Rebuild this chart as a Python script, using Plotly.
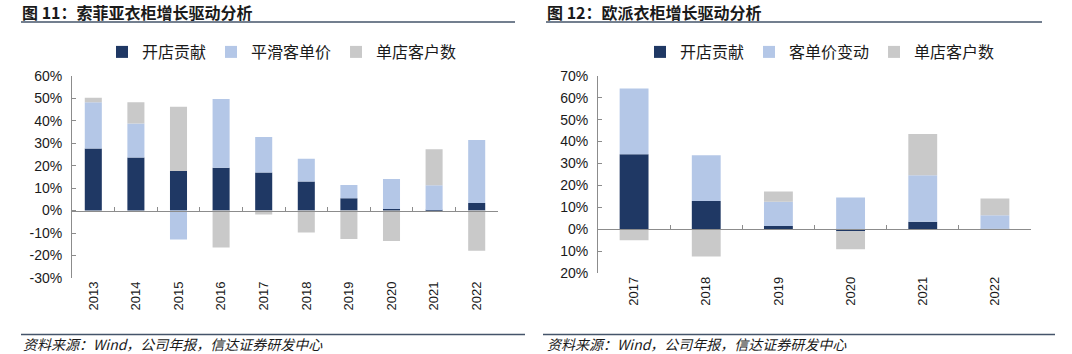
import plotly.graph_objects as go

years_L = ["2013", "2014", "2015", "2016", "2017", "2018", "2019", "2020", "2021", "2022"]
open_L = [27.6, 23.6, 17.6, 19.1, 16.9, 12.9, 5.5, 0.7, 0.3, 3.4]
price_L = [20.6, 15.1, -12.9, 30.5, 15.8, 10.1, 5.9, 13.3, 11.0, 28.0]
cust_L = [2.0, 9.5, 28.6, -16.4, -1.8, -9.8, -12.6, -13.5, 16.0, -17.9]

years_R = ["2017", "2018", "2019", "2020", "2021", "2022"]
open_R = [34.2, 12.9, 1.5, -0.8, 3.5, 0.3]
price_R = [30.0, 20.9, 11.1, 14.5, 21.2, 6.1]
cust_R = [-5.0, -12.4, 4.7, -8.3, 18.8, 7.7]

names_L = ["开店贡献", "平滑客单价", "单店客户数"]
names_R = ["开店贡献", "客单价变动", "单店客户数"]
colors = ["#1F3864", "#B4C7E7", "#C9C9C9"]

yt_L = [-30, -20, -10, 0, 10, 20, 30, 40, 50, 60]
yt_L_text = ["-30%", "-20%", "-10%", "0%", "10%", "20%", "30%", "40%", "50%", "60%"]
yt_R = [-20, -10, 0, 10, 20, 30, 40, 50, 60, 70]
yt_R_text = ["20%", "10%", "0%", "10%", "20%", "30%", "40%", "50%", "60%", "70%"]

title_L = "图 11：索菲亚衣柜增长驱动分析"
title_R = "图 12：欧派衣柜增长驱动分析"
source = "资料来源：Wind，公司年报，信达证券研发中心"

W, H = 1072, 354
FONT = "Liberation Sans, Arial, Noto Sans CJK SC, sans-serif"
CJK = "Noto Sans CJK SC, sans-serif"

fig = go.Figure()

for vals, nm, c in zip([open_L, price_L, cust_L], names_L, colors):
    fig.add_trace(go.Bar(x=years_L, y=vals, name=nm, marker=dict(color=c, line=dict(width=0)),
                         xaxis="x", yaxis="y", legend="legend"))
for vals, nm, c in zip([open_R, price_R, cust_R], names_R, colors):
    fig.add_trace(go.Bar(x=years_R, y=vals, name=nm, marker=dict(color=c, line=dict(width=0)),
                         xaxis="x2", yaxis="y2", legend="legend2"))

# invisible helper traces so the zero-line axes know the categories
fig.add_trace(go.Scatter(x=years_L, y=[0] * len(years_L), mode="none", showlegend=False,
                         hoverinfo="skip", xaxis="x3", yaxis="y"))
fig.add_trace(go.Scatter(x=years_R, y=[0] * len(years_R), mode="none", showlegend=False,
                         hoverinfo="skip", xaxis="x4", yaxis="y2"))

dxL = [72 / W, 498 / W]
dyL = [1 - 278 / H, 1 - 75.7 / H]
dxR = [598 / W, 1031 / W]
dyR = [1 - 273.3 / H, 1 - 75.7 / H]
rL = [-30, 60]
rR = [-20, 70]


def zero_pos(dom, rng):
    return dom[0] + (0 - rng[0]) / (rng[1] - rng[0]) * (dom[1] - dom[0])


axis_col = "#8C8C8C"
tickfont = dict(family=FONT, size=14, color="#1a1a1a")
xtickfont = dict(family=FONT, size=13, color="#1a1a1a")

yax = dict(showgrid=False, zeroline=False, showline=True, linecolor=axis_col, linewidth=1,
           ticks="inside", ticklen=4, tickcolor=axis_col, tickfont=tickfont, ticklabelstandoff=6,
           automargin=False)
xax = dict(showgrid=False, zeroline=False, showline=False, ticks="", tickangle=-90,
           tickfont=xtickfont, type="category", automargin=False)
zax = dict(showgrid=False, zeroline=False, showline=True, linecolor=axis_col, linewidth=1,
           ticks="inside", ticklen=4, tickcolor=axis_col, tickson="boundaries",
           showticklabels=False, type="category", anchor="free", automargin=False)

legfont = dict(family=CJK, size=16, color="#1a1a1a")

fig.update_layout(
    template="none",
    width=W, height=H,
    margin=dict(l=0, r=0, t=0, b=0, autoexpand=False),
    paper_bgcolor="white", plot_bgcolor="white",
    barmode="relative", bargap=0.6,
    font=dict(family=FONT, size=13, color="#1a1a1a"),
    xaxis=dict(domain=dxL, anchor="y", range=[-0.5, len(years_L) - 0.5], **xax),
    yaxis=dict(domain=dyL, anchor="x", range=rL, tickvals=yt_L, ticktext=yt_L_text, **yax),
    xaxis2=dict(domain=dxR, anchor="y2", range=[-0.5, len(years_R) - 0.5], **xax),
    yaxis2=dict(domain=dyR, anchor="x2", range=rR, tickvals=yt_R, ticktext=yt_R_text, **yax),
    xaxis3=dict(overlaying="x", position=zero_pos(dyL, rL), range=[-0.5, len(years_L) - 0.5], **zax),
    xaxis4=dict(overlaying="x2", position=zero_pos(dyR, rR), range=[-0.5, len(years_R) - 0.5], **zax),
    legend=dict(orientation="h", x=102 / W, y=1 - 52 / H, xanchor="left", yanchor="middle",
                font=legfont, itemwidth=30, bgcolor="rgba(0,0,0,0)", traceorder="normal"),
    legend2=dict(orientation="h", x=640 / W, y=1 - 52 / H, xanchor="left", yanchor="middle",
                 font=legfont, itemwidth=30, bgcolor="rgba(0,0,0,0)", traceorder="normal"),
    showlegend=True,
    hovermode="closest",
)

line_col = "#44546A"
shapes = [
    dict(type="line", xref="paper", yref="paper", x0=21 / W, x1=515 / W, y0=1 - 22 / H, y1=1 - 22 / H,
         line=dict(color=line_col, width=1.5)),
    dict(type="line", xref="paper", yref="paper", x0=546 / W, x1=1042 / W, y0=1 - 22 / H, y1=1 - 22 / H,
         line=dict(color=line_col, width=1.5)),
    dict(type="line", xref="paper", yref="paper", x0=21 / W, x1=525 / W, y0=1 - 334.5 / H, y1=1 - 334.5 / H,
         line=dict(color=line_col, width=1.5)),
    dict(type="line", xref="paper", yref="paper", x0=543 / W, x1=1055 / W, y0=1 - 334.5 / H, y1=1 - 334.5 / H,
         line=dict(color=line_col, width=1.5)),
]
fig.update_layout(shapes=shapes)

annos = [
    dict(text="<b>" + title_L + "</b>", x=21 / W, y=1 - 12 / H, xanchor="left", yanchor="middle",
         font=dict(family=CJK, size=16, color="#1a1a1a")),
    dict(text="<b>" + title_R + "</b>", x=546 / W, y=1 - 12 / H, xanchor="left", yanchor="middle",
         font=dict(family=CJK, size=16, color="#1a1a1a")),
    dict(text="<i>" + source + "</i>", x=22 / W, y=1 - 343.5 / H, xanchor="left", yanchor="middle",
         font=dict(family=CJK, size=14, color="#1a1a1a")),
    dict(text="<i>" + source + "</i>", x=546 / W, y=1 - 343.5 / H, xanchor="left", yanchor="middle",
         font=dict(family=CJK, size=14, color="#1a1a1a")),
]
for a in annos:
    a.update(xref="paper", yref="paper", showarrow=False, borderpad=0)
fig.update_layout(annotations=annos)

fig.write_html("out.html")
